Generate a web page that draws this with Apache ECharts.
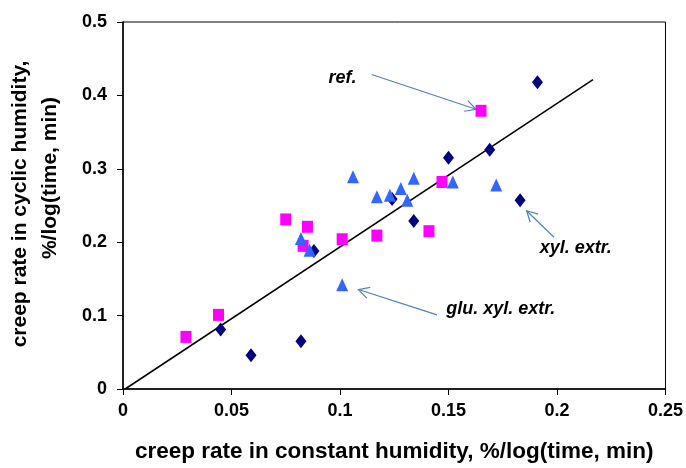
<!DOCTYPE html>
<html>
	<head>
		<meta charset="utf-8" />
		<title>creep rate</title>
		<script src="https://cdn.jsdelivr.net/npm/echarts@6/dist/echarts.min.js"></script>
		<style>
			body { margin: 0; background: #fff; }
			#main { width: 686px; height: 468px; }
		</style>
	</head>
	<body>
		<div id="main"></div>
		<script type="text/javascript">
			// 数据
			var diamondX = [0.045, 0.059, 0.082, 0.088, 0.124, 0.134, 0.150, 0.169, 0.183, 0.191];
			var diamondY = [0.081, 0.046, 0.065, 0.188, 0.259, 0.229, 0.315, 0.326, 0.257, 0.418];
			var squareX = [0.029, 0.044, 0.075, 0.083, 0.085, 0.101, 0.117, 0.141, 0.147, 0.165];
			var squareY = [0.071, 0.101, 0.231, 0.195, 0.221, 0.204, 0.209, 0.215, 0.282, 0.379];
			var triangleX = [0.082, 0.086, 0.101, 0.106, 0.117, 0.123, 0.128, 0.131, 0.134, 0.152, 0.172];
			var triangleY = [0.205, 0.189, 0.142, 0.289, 0.262, 0.264, 0.273, 0.257, 0.287, 0.282, 0.278];
			var fitX = [0.001, 0.2166];
			var fitY = [0, 0.4216];
			var xTicks = [0, 0.05, 0.1, 0.15, 0.2, 0.25];
			var yTicks = [0, 0.1, 0.2, 0.3, 0.4, 0.5];

			var xTitle = 'creep rate in constant humidity, %/log(time, min)';
			var yTitle = ['creep rate in cyclic humidity,', '%/log(time, min)'];

			// 标注: 文字 + 箭头 (数据坐标)
			var notes = [
				{ text: 'ref.', at: [0.1076, 0.4243], align: 'right', from: [0.1146, 0.4284], to: [0.1627, 0.3811] },
				{ text: 'xyl. extr.', at: [0.192, 0.1919], align: 'left', from: [0.1986, 0.2068], to: [0.1860, 0.2428] },
				{ text: 'glu. xyl. extr.', at: [0.149, 0.1085], align: 'left', from: [0.1447, 0.1009], to: [0.1085, 0.1355] }
			];

			function pairs(xs, ys) {
				var out = [];
				for (var i = 0; i < xs.length; i++) out.push([xs[i], ys[i]]);
				return out;
			}

			var font = 'Liberation Sans, Arial, sans-serif';
			var myChart = echarts.init(document.getElementById('main'), null, { renderer: 'canvas' });

			var option = {
				animation: false,
				grid: {
					left: 123, right: 17, top: 22, bottom: 76,
					show: true, borderColor: '#000', borderWidth: 1
				},
				xAxis: {
					type: 'value',
					min: xTicks[0], max: xTicks[xTicks.length - 1], interval: 0.05,
					splitLine: { show: false },
					axisLine: { lineStyle: { color: '#000', width: 1.5 } },
					axisTick: { inside: false, length: 6, lineStyle: { color: '#000', width: 1 } },
					axisLabel: {
						margin: 13, color: '#000', fontFamily: font, fontWeight: 'bold', fontSize: 18,
						formatter: function (v) { return String(+v.toFixed(2)); }
					},
					name: xTitle,
					nameLocation: 'middle',
					nameGap: 51,
					nameTextStyle: { color: '#000', fontFamily: font, fontWeight: 'bold', fontSize: 22.5 }
				},
				yAxis: {
					type: 'value',
					min: yTicks[0], max: yTicks[yTicks.length - 1], interval: 0.1,
					splitLine: { show: false },
					axisLine: { lineStyle: { color: '#000', width: 1.5 } },
					axisTick: { inside: false, length: 6, lineStyle: { color: '#000', width: 1 } },
					axisLabel: {
						margin: 16, color: '#000', fontFamily: font, fontWeight: 'bold', fontSize: 18,
						formatter: function (v) { return String(+v.toFixed(1)); }
					}
				},
				series: [
					{
						type: 'line',
						data: pairs(fitX, fitY),
						showSymbol: false,
						lineStyle: { color: '#000', width: 1.5 },
						z: 1
					},
					{
						type: 'scatter',
						data: pairs(diamondX, diamondY),
						symbol: 'diamond',
						symbolSize: [11, 14],
						itemStyle: { color: '#000080', opacity: 1 },
						z: 2
					},
					{
						type: 'scatter',
						data: pairs(squareX, squareY),
						symbol: 'rect',
						symbolSize: [11, 12],
						itemStyle: { color: '#ff00ff', opacity: 1 },
						z: 3
					},
					{
						type: 'scatter',
						data: pairs(triangleX, triangleY),
						symbol: 'triangle',
						symbolSize: [12, 13],
						itemStyle: { color: '#3366ff', opacity: 1 },
						z: 4
					}
				]
			};
			myChart.setOption(option);

			// y轴标题 (两行, 竖排) 和 箭头标注
			var g = [];
			g.push({
				type: 'text', x: 20, y: 204, rotation: Math.PI / 2,
				style: { text: yTitle[0], fill: '#000', font: 'bold 21px ' + font, textAlign: 'center', textVerticalAlign: 'middle' }
			});
			g.push({
				type: 'text', x: 50, y: 178, rotation: Math.PI / 2,
				style: { text: yTitle[1], fill: '#000', font: 'bold 21px ' + font, textAlign: 'center', textVerticalAlign: 'middle' }
			});

			var arrowColor = '#4f81bd';
			notes.forEach(function (n) {
				var p = myChart.convertToPixel({ gridIndex: 0 }, n.at);
				g.push({
					type: 'text', x: p[0], y: p[1],
					style: { text: n.text, fill: '#000', font: 'italic bold 18px ' + font, textAlign: n.align, textVerticalAlign: 'middle' }
				});
				var a = myChart.convertToPixel({ gridIndex: 0 }, n.from);
				var b = myChart.convertToPixel({ gridIndex: 0 }, n.to);
				g.push({
					type: 'line',
					shape: { x1: a[0], y1: a[1], x2: b[0], y2: b[1] },
					style: { stroke: arrowColor, lineWidth: 1.2 }
				});
				// 开口箭头
				var ang = Math.atan2(a[1] - b[1], a[0] - b[0]);
				var len = 12, spread = 28 * Math.PI / 180;
				g.push({
					type: 'polyline',
					shape: { points: [
						[b[0] + len * Math.cos(ang + spread), b[1] + len * Math.sin(ang + spread)],
						[b[0], b[1]],
						[b[0] + len * Math.cos(ang - spread), b[1] + len * Math.sin(ang - spread)]
					] },
					style: { stroke: arrowColor, lineWidth: 1.2, fill: null }
				});
			});
			myChart.setOption({ graphic: g });
		</script>
	</body>
</html>
